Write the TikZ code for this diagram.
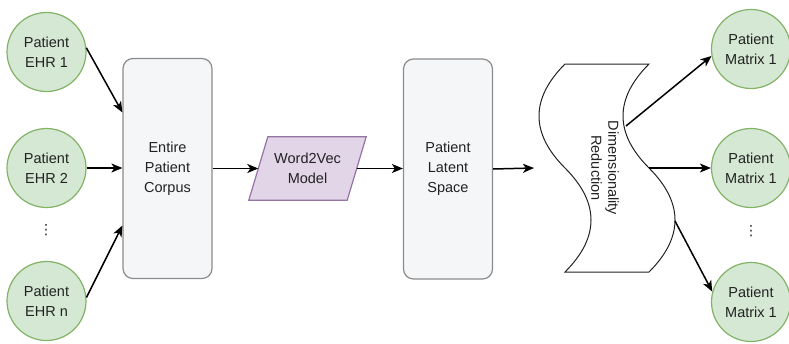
\documentclass[tikz,border=0pt]{standalone}
\usepackage{fontspec}
\setmainfont{Liberation Sans}
\newfontfamily\symfont{DejaVu Sans}
\usetikzlibrary{arrows.meta,calc}
\definecolor{greenfill}{HTML}{D5E8D4}
\definecolor{greenline}{HTML}{82B366}
\definecolor{boxfill}{HTML}{F4F6F8}
\definecolor{boxline}{HTML}{8C8C8C}
\definecolor{purplefill}{HTML}{E1D5E7}
\definecolor{purpleline}{HTML}{9673A6}
\definecolor{ink}{HTML}{222222}
\begin{document}
\begin{tikzpicture}[x=1pt,y=-1pt,
  every node/.style={font=\fontsize{14.5}{20}\selectfont, text=ink, align=center},
  record/.style={circle, draw=greenline, fill=greenfill, line width=1.2pt,
    minimum size=79pt, inner sep=0pt},
  stage/.style={rectangle, rounded corners=10pt, draw=boxline, fill=boxfill,
    line width=1.2pt, minimum width=89pt, minimum height=220pt, inner sep=0pt},
  flow/.style={line width=1.5pt, -{Stealth[length=11pt,width=9pt,inset=3pt]}},
  dotsmark/.style={font=\symfont\fontsize{14}{14}\selectfont, inner sep=0pt, outer sep=0pt}
]
\useasboundingbox (0,0) rectangle (789,343);

% input records
\node[record] (e1) at (46.5,52)  {Patient\\EHR 1};
\node[record] (e2) at (46.5,168) {Patient\\EHR 2};
\node[record] (en) at (46.5,301) {Patient\\EHR n};
\node[dotsmark] (ldots) at (46,230) {⋮};

% corpus and latent space
\node[stage] (corp) at (167.5,168.5) {Entire\\Patient\\Corpus};
\node[stage] (lat)  at (448,169)    {Patient\\Latent\\Space};

% Word2Vec parallelogram
\node[minimum width=98pt, minimum height=63pt, inner sep=0pt] (w2v) at (307.5,168.5) {};
\filldraw[fill=purplefill, draw=purpleline, line width=1.2pt]
  ($(w2v.north west)+(9.5,0)$) -- ($(w2v.north east)+(9.5,0)$)
  -- ($(w2v.south east)+(-9.5,0)$) -- ($(w2v.south west)+(-9.5,0)$) -- cycle;
\node at (w2v) {Word2Vec\\Model};

% dimensionality reduction tape
\node[minimum width=84pt, minimum height=208pt, inner sep=0pt] (dr) at (607,168) {};
\filldraw[fill=white, draw=ink, line width=1pt]
  ($(dr)+(-42,-104)$) -- ($(dr)+(42,-104)$)
  .. controls ($(dr)+(7.33,-69.33)$) and ($(dr)+(7.33,-34.67)$) .. ($(dr)+(42,0)$)
  .. controls ($(dr)+(76.67,34.67)$) and ($(dr)+(76.67,69.33)$) .. ($(dr)+(42,104)$)
  -- ($(dr)+(-42,104)$)
  .. controls ($(dr)+(-7.33,69.33)$) and ($(dr)+(-7.33,34.67)$) .. ($(dr)+(-42,0)$)
  .. controls ($(dr)+(-76.67,-34.67)$) and ($(dr)+(-76.67,-69.33)$) .. ($(dr)+(-42,-104)$)
  -- cycle;
\node[rotate=-90, font=\fontsize{14.5}{17}\selectfont] at ($(dr)+(-2,0)$) {Dimensionality\\Reduction};
\coordinate (dr-o1) at ($(dr)+(19,-42)$);
\coordinate (dr-o2) at ($(dr)+(42,0)$);
\coordinate (dr-o3) at ($(dr)+(68,53)$);

% output matrices
\node[record] (m1) at (751,49)  {Patient\\Matrix 1};
\node[record] (m2) at (751,168) {Patient\\Matrix 1};
\node[record] (m3) at (751,302) {Patient\\Matrix 1};
\node[dotsmark] (rdots) at (751,231) {⋮};

% connectors
\draw[flow] (e1.6) -- ([yshift=56pt]corp.west);
\draw[flow] (e2.east) -- (e2 -| corp.west);
\draw[flow] (en.5) -- ([yshift=-57pt]corp.west);
\draw[flow] (corp.east) -- (w2v.west);
\draw[flow] (w2v.east) -- (w2v -| lat.west);
\draw[flow] (lat.east) -- ($(dr)+(-73,0)$);
\draw[flow] (dr-o1) -- (m1.190);
\draw[flow] (dr-o2) -- (m2.west);
\draw[flow] (dr-o3) -- (m3.165);
\end{tikzpicture}
\end{document}
